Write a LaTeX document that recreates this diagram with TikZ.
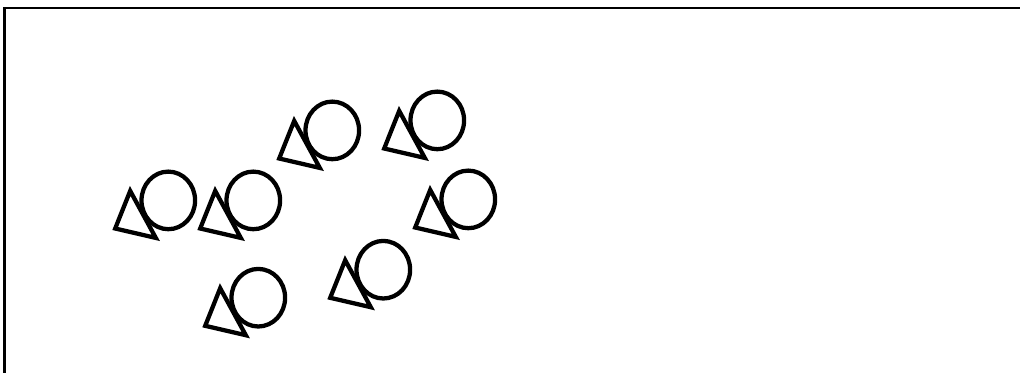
\documentclass[tikz,border=0pt]{standalone}
\begin{document}
\begin{tikzpicture}[x=0.75pt,y=-0.75pt,
  shapeline/.style={line width=3.2pt,line join=miter},
  frameline/.style={line width=1.9pt},
  pics/tricircle/.style={code={
    \draw[shapeline] (0.2,4.2) -- (-14.8,41.8) -- (25.8,51.2) -- cycle;
    \draw[shapeline] (38.3,13.7) ellipse [x radius=26.8, y radius=28.8];
  }}]
\useasboundingbox (0,0) rectangle (1020,372);
\clip (0,0) rectangle (1020,372);
\draw[frameline] (4.5,7.8) rectangle (1040,400);
\pic (gA) at (130,186.7) {tricircle};
\pic (gD) at (215,186.7) {tricircle};
\pic (gB) at (294,116.7) {tricircle};
\pic (gC) at (399,106.7) {tricircle};
\pic (gE) at (430,185.7) {tricircle};
\pic (gF) at (220,284) {tricircle};
\pic (gG) at (345,256) {tricircle};
\end{tikzpicture}
\end{document}
